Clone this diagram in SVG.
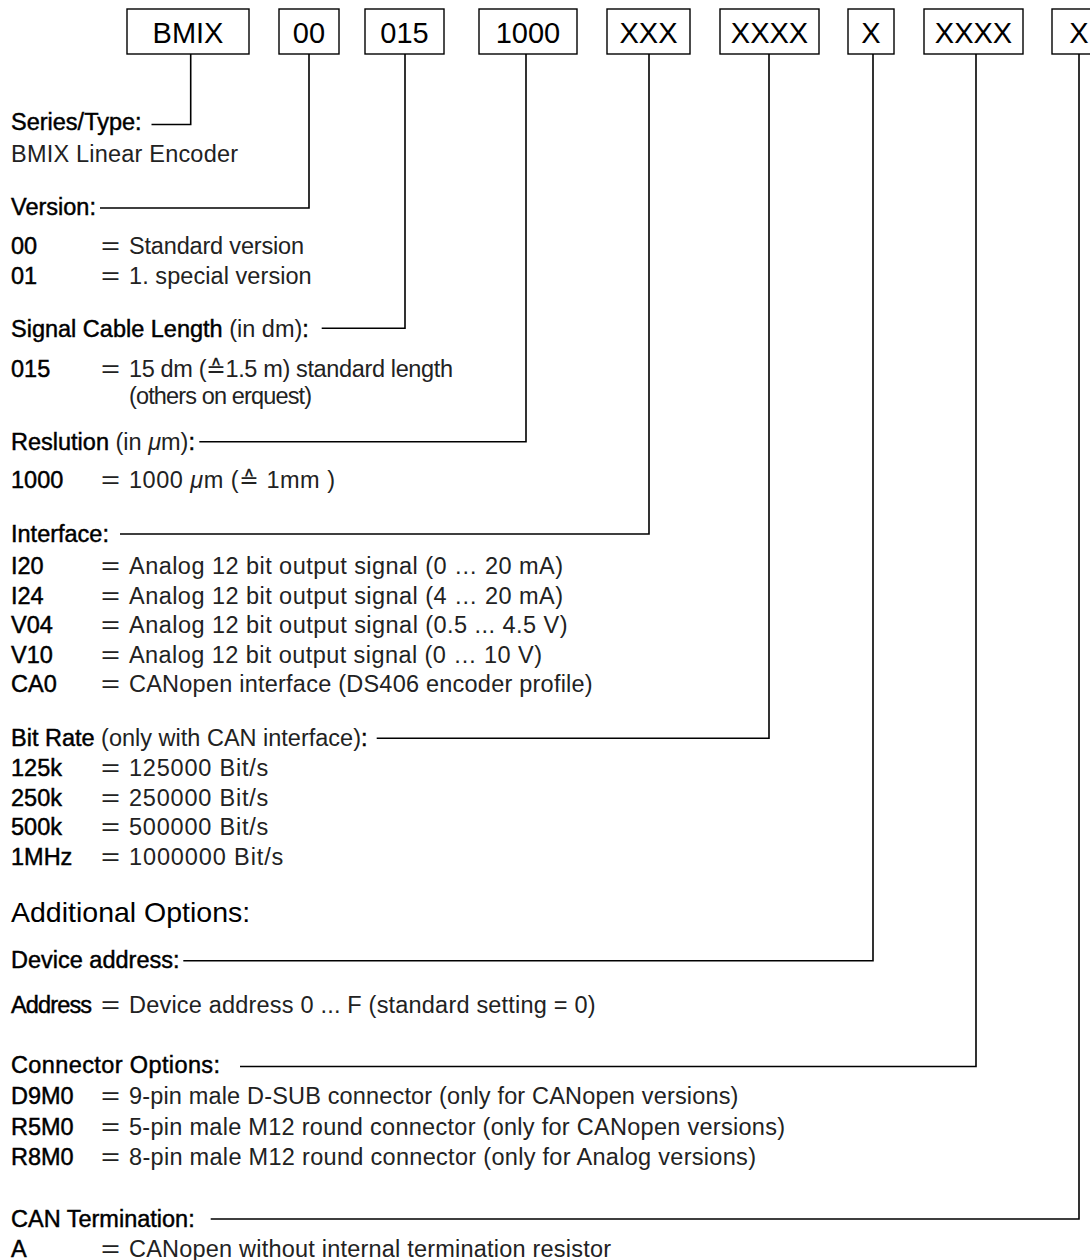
<svg xmlns="http://www.w3.org/2000/svg" width="1090" height="1260" viewBox="0 0 1090 1260">
<style>
  .box { fill:#fff; stroke:#000; stroke-width:1.4; }
  .bt { font-family:"Liberation Sans", Arial, sans-serif; font-size:29px; fill:#000; text-anchor:middle; }
  .h { font-family:"Liberation Sans", Arial, "DejaVu Sans", sans-serif; font-size:23.5px; fill:#000; stroke:#000; stroke-width:0.45; }
  .d { font-family:"Liberation Sans", Arial, "DejaVu Sans", sans-serif; font-size:23.5px; fill:#222; stroke:none; }
  .big { font-family:"Liberation Sans", Arial, sans-serif; font-size:28.5px; fill:#000; }
  .it { font-style:italic; }
  .conn { fill:none; stroke:#000; stroke-width:1.6; }
</style>
<rect width="1090" height="1260" fill="#fff"/>

<g id="connectors">
  <path class="conn" d="M190.7,54 V124.5 H151.5"/>
  <path class="conn" d="M309,54 V208 H100"/>
  <path class="conn" d="M405,54 V328.3 H321.7"/>
  <path class="conn" d="M526,54 V441.7 H199.3"/>
  <path class="conn" d="M649,54 V534 H120"/>
  <path class="conn" d="M769,54 V738.3 H376.7"/>
  <path class="conn" d="M873,54 V960.7 H183.3"/>
  <path class="conn" d="M976,54 V1066.5 H240"/>
  <path class="conn" d="M1079,54 V1219 H210.7"/>
</g>

<g id="box-bmix"><rect class="box" x="127" y="9" width="122" height="45"/><text class="bt" x="188" y="43">BMIX</text></g>
<g id="box-version"><rect class="box" x="279" y="9" width="60" height="45"/><text class="bt" x="309" y="43">00</text></g>
<g id="box-cable"><rect class="box" x="365" y="9" width="79" height="45"/><text class="bt" x="404.5" y="43">015</text></g>
<g id="box-resolution"><rect class="box" x="479" y="9" width="98" height="45"/><text class="bt" x="528" y="43">1000</text></g>
<g id="box-interface"><rect class="box" x="607" y="9" width="83" height="45"/><text class="bt" x="648.5" y="43">XXX</text></g>
<g id="box-bitrate"><rect class="box" x="720" y="9" width="99" height="45"/><text class="bt" x="769.5" y="43">XXXX</text></g>
<g id="box-address"><rect class="box" x="848" y="9" width="46" height="45"/><text class="bt" x="871" y="43">X</text></g>
<g id="box-connector"><rect class="box" x="924" y="9" width="99" height="45"/><text class="bt" x="973.5" y="43">XXXX</text></g>
<g id="box-termination"><rect class="box" x="1052" y="9" width="54" height="45"/><text class="bt" x="1079" y="43">X</text></g>

<g id="sec-series">
  <text class="h" x="11" y="130">Series/Type:</text>
  <text class="d" x="11" y="161.7" textLength="227">BMIX Linear Encoder</text>
</g>

<g id="sec-version">
  <text class="h" x="11" y="215">Version:</text>
  <text class="h" x="11" y="254">00</text><text class="d" x="101" y="254" textLength="19" lengthAdjust="spacingAndGlyphs">=</text><text class="d" x="129" y="254" textLength="175">Standard version</text>
  <text class="h" x="11" y="284">01</text><text class="d" x="101" y="284" textLength="19" lengthAdjust="spacingAndGlyphs">=</text><text class="d" x="129" y="284" textLength="182.7">1. special version</text>
</g>

<g id="sec-cable">
  <text class="h" x="11" y="336.7">Signal Cable Length<tspan class="d"> (in dm)</tspan>:</text>
  <text class="h" x="11" y="376.7">015</text><text class="d" x="101" y="376.7" textLength="19" lengthAdjust="spacingAndGlyphs">=</text><text class="d" x="129" y="376.7" textLength="324">15 dm (≙1.5 m) standard length</text>
  <text class="d" x="129" y="404" textLength="183">(others on erquest)</text>
</g>

<g id="sec-resolution">
  <text class="h" x="11" y="450">Reslution<tspan class="d"> (in <tspan class="it">μ</tspan>m)</tspan>:</text>
  <text class="h" x="11" y="488.3">1000</text><text class="d" x="101" y="488.3" textLength="19" lengthAdjust="spacingAndGlyphs">=</text><text class="d" x="129" y="488.3" textLength="206">1000 <tspan class="it">μ</tspan>m (≙ 1mm )</text>
</g>

<g id="sec-interface">
  <text class="h" x="11" y="541.5">Interface:</text>
  <text class="h" x="11" y="574">I20</text><text class="d" x="101" y="574" textLength="19" lengthAdjust="spacingAndGlyphs">=</text><text class="d" x="129" y="574" textLength="434">Analog 12 bit output signal (0 … 20 mA)</text>
  <text class="h" x="11" y="603.5">I24</text><text class="d" x="101" y="603.5" textLength="19" lengthAdjust="spacingAndGlyphs">=</text><text class="d" x="129" y="603.5" textLength="434">Analog 12 bit output signal (4 … 20 mA)</text>
  <text class="h" x="11" y="633">V04</text><text class="d" x="101" y="633" textLength="19" lengthAdjust="spacingAndGlyphs">=</text><text class="d" x="129" y="633" textLength="438.5">Analog 12 bit output signal (0.5 ... 4.5 V)</text>
  <text class="h" x="11" y="662.5">V10</text><text class="d" x="101" y="662.5" textLength="19" lengthAdjust="spacingAndGlyphs">=</text><text class="d" x="129" y="662.5" textLength="413">Analog 12 bit output signal (0 … 10 V)</text>
  <text class="h" x="11" y="692">CA0</text><text class="d" x="101" y="692" textLength="19" lengthAdjust="spacingAndGlyphs">=</text><text class="d" x="129" y="692" textLength="463.7">CANopen interface (DS406 encoder profile)</text>
</g>

<g id="sec-bitrate">
  <text class="h" x="11" y="745.5">Bit Rate<tspan class="d"> (only with CAN interface)</tspan>:</text>
  <text class="h" x="11" y="776">125k</text><text class="d" x="101" y="776" textLength="19" lengthAdjust="spacingAndGlyphs">=</text><text class="d" x="129" y="776" textLength="139.3">125000 Bit/s</text>
  <text class="h" x="11" y="805.5">250k</text><text class="d" x="101" y="805.5" textLength="19" lengthAdjust="spacingAndGlyphs">=</text><text class="d" x="129" y="805.5" textLength="139.3">250000 Bit/s</text>
  <text class="h" x="11" y="835">500k</text><text class="d" x="101" y="835" textLength="19" lengthAdjust="spacingAndGlyphs">=</text><text class="d" x="129" y="835" textLength="139.3">500000 Bit/s</text>
  <text class="h" x="11" y="864.5">1MHz</text><text class="d" x="101" y="864.5" textLength="19" lengthAdjust="spacingAndGlyphs">=</text><text class="d" x="129" y="864.5" textLength="154.3">1000000 Bit/s</text>
</g>

<g id="sec-additional">
  <text class="big" x="11" y="922">Additional Options:</text>
</g>

<g id="sec-address">
  <text class="h" x="11" y="968.3">Device address:</text>
  <text class="h" x="11" y="1013.3" textLength="81">Address</text><text class="d" x="101" y="1013.3" textLength="19" lengthAdjust="spacingAndGlyphs">=</text><text class="d" x="129" y="1013.3" textLength="466.5">Device address 0 ... F (standard setting = 0)</text>
</g>

<g id="sec-connector">
  <text class="h" x="11" y="1073.3" textLength="209">Connector Options:</text>
  <text class="h" x="11" y="1104.3">D9M0</text><text class="d" x="101" y="1104.3" textLength="19" lengthAdjust="spacingAndGlyphs">=</text><text class="d" x="129" y="1104.3" textLength="609.4">9-pin male D-SUB connector (only for CANopen versions)</text>
  <text class="h" x="11" y="1135">R5M0</text><text class="d" x="101" y="1135" textLength="19" lengthAdjust="spacingAndGlyphs">=</text><text class="d" x="129" y="1135" textLength="656">5-pin male M12 round connector (only for CANopen versions)</text>
  <text class="h" x="11" y="1165">R8M0</text><text class="d" x="101" y="1165" textLength="19" lengthAdjust="spacingAndGlyphs">=</text><text class="d" x="129" y="1165" textLength="627">8-pin male M12 round connector (only for Analog versions)</text>
</g>

<g id="sec-termination">
  <text class="h" x="11" y="1226.7">CAN Termination:</text>
  <text class="h" x="11" y="1256.7">A</text><text class="d" x="101" y="1256.7" textLength="19" lengthAdjust="spacingAndGlyphs">=</text><text class="d" x="129" y="1256.7" textLength="482">CANopen without internal termination resistor</text>
</g>
</svg>
